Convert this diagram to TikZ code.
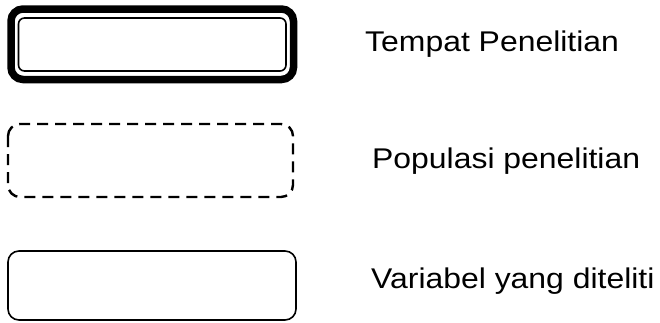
\documentclass[tikz,border=0pt]{standalone}
\usepackage{fontspec}
\setmainfont{Liberation Sans}[FakeStretch=1.12]
\begin{document}
\begin{tikzpicture}[x=1pt,y=-1pt,
  outerbox/.style={line width=7.5pt,rounded corners=12pt},
  innerbox/.style={line width=1.6pt,rounded corners=6pt},
  dashbox/.style={line width=2.4pt,rounded corners=12pt,dash pattern=on 11pt off 7pt},
  plainbox/.style={line width=1.6pt,rounded corners=11pt},
  lbl/.style={anchor=base west,inner sep=0pt,font=\fontsize{28.5}{32}\selectfont}]
\useasboundingbox (0,0) rectangle (660,322);
\draw[outerbox] (11,9) rectangle (293.5,79.5);
\draw[innerbox] (18.5,18) rectangle (286,71);
\draw[dashbox] (8,124) rectangle (293,197);
\draw[plainbox] (8,251) rectangle (296,320);
\node[lbl] (t1) at (365,51) {Tempat Penelitian};
\node[lbl] (t2) at (372,168) {Populasi penelitian};
\node[lbl] (t3) at (371,288) {Variabel yang diteliti};
\end{tikzpicture}
\end{document}
